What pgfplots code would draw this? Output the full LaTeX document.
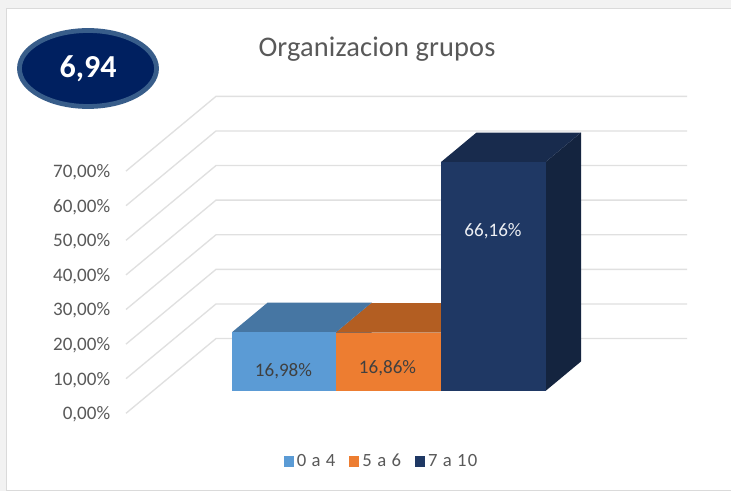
\documentclass[border=0pt]{standalone}
\usepackage{pgfplots}
\pgfplotsset{compat=1.18}
\usepackage{fontspec}
\setmainfont{Carlito}
\newfontfamily\spaced[LetterSpace=6]{Carlito}
\newfontfamily\titlef[LetterSpace=0.5]{Carlito}
\definecolor{txt}{HTML}{595959}
\definecolor{lbl}{HTML}{404040}
\definecolor{gridc}{HTML}{E0E0E0}
\definecolor{frameb}{HTML}{DADADA}
\definecolor{pageb}{HTML}{F2F2F2}
\definecolor{aF}{HTML}{5B9BD5}\definecolor{aT}{HTML}{4676A3}
\definecolor{bF}{HTML}{ED7D31}\definecolor{bT}{HTML}{B35E22}
\definecolor{cF}{HTML}{1F3864}\definecolor{cT}{HTML}{182B4D}\definecolor{cS}{HTML}{14243F}
% one bar: x left, x right, value, front, top, side
\newcommand{\onebar}[6]{%
  \addplot[forget plot,fill=#6,draw=none] coordinates {(#2,6.45) (#2+35.5,6.45+8.53) (#2+35.5,6.45+8.53+#3) (#2,6.45+#3)} --cycle;
  \addplot[forget plot,fill=#5,draw=none] coordinates {(#1,6.45+#3) (#1+35.5,6.45+8.53+#3) (#2+35.5,6.45+8.53+#3) (#2,6.45+#3)} --cycle;
  \addplot[forget plot,fill=#4,draw=none] coordinates {(#1,6.45) (#2,6.45) (#2,6.45+#3) (#1,6.45+#3)} --cycle;
}
\begin{document}
\begin{tikzpicture}
\useasboundingbox (0,0) rectangle (548.25pt,368.25pt);
\fill[pageb] (0,0) rectangle (548.25pt,368.25pt);
\fill[white,draw=frameb,line width=0.9pt] (4.6pt,0.5pt) rectangle (549pt,362pt);
\begin{axis}[
  at={(0,0)},anchor=south west,
  scale only axis,width=548.25pt,height=368.25pt,
  xmin=0,xmax=731,ymin=-22.457,ymax=119.45,
  axis line style={draw=none},
  major tick length=0pt,
  xtick=\empty,
  ytick={0,10,20,30,40,50,60,70},
  yticklabels={{0,00\%},{10,00\%},{20,00\%},{30,00\%},{40,00\%},{50,00\%},{60,00\%},{70,00\%}},
  yticklabel style={font=\fontsize{14.3pt}{16pt}\selectfont,text=txt,anchor=east,xshift=82.8pt,yshift=-0.9pt,inner sep=0pt},
  legend columns=3,
  legend style={at={(axis cs:380.5,-13.9)},anchor=center,draw=none,fill=none,
    font=\fontsize{14pt}{16pt}\spaced\selectfont,text=txt,inner sep=0pt,
    /tikz/every even column/.append style={column sep=10.5pt},
    /tikz/column 2/.style={column sep=11pt},/tikz/column 4/.style={column sep=11pt},
    nodes={inner sep=0pt,anchor=west},
    legend cell align=left},
  legend image code/.code={\path[#1,draw=none] (0pt,-4pt) rectangle (7.5pt,4pt);},
]
\addlegendimage{fill=aF}\addlegendentry{\,0 a 4}
\addlegendimage{fill=bF}\addlegendentry{\,5 a 6}
\addlegendimage{fill=cF}\addlegendentry{\,7 a 10}
\pgfplotsinvokeforeach{0,10,20,30,40,50,60,70}{
  \addplot[forget plot,draw=gridc,line width=1pt] coordinates {(126,#1) (216,#1+21.6) (687,#1+21.6)};
}
\onebar{232}{336}{16.98}{aF}{aT}{aT}
\onebar{336}{441}{16.86}{bF}{bT}{bT}
\onebar{441}{545.5}{66.16}{cF}{cT}{cS}
\node[text=lbl,font=\fontsize{14.3pt}{16pt}\selectfont] at (axis cs:283.5,12.3) {16,98\%};
\node[text=lbl,font=\fontsize{14.3pt}{16pt}\selectfont] at (axis cs:387.5,12.9) {16,86\%};
\node[text=white!92!cF,font=\fontsize{14.3pt}{16pt}\selectfont] at (axis cs:493,52.7) {66,16\%};
\node[text=txt,font=\fontsize{21.3pt}{24pt}\titlef\selectfont] at (axis cs:377,105.2) {Organizacion grupos};
\draw[fill={rgb,255:red,0;green,32;blue,96},draw={rgb,255:red,56;green,93;blue,138},line width=3.6pt] (axis cs:88,99.65) ellipse [x radius=51.4pt,y radius=28.5pt];
\node[text=white,font=\fontsize{24pt}{26pt}\bfseries\selectfont] at (axis cs:88,99.5) {6,94};
\end{axis}
\end{tikzpicture}
\end{document}
